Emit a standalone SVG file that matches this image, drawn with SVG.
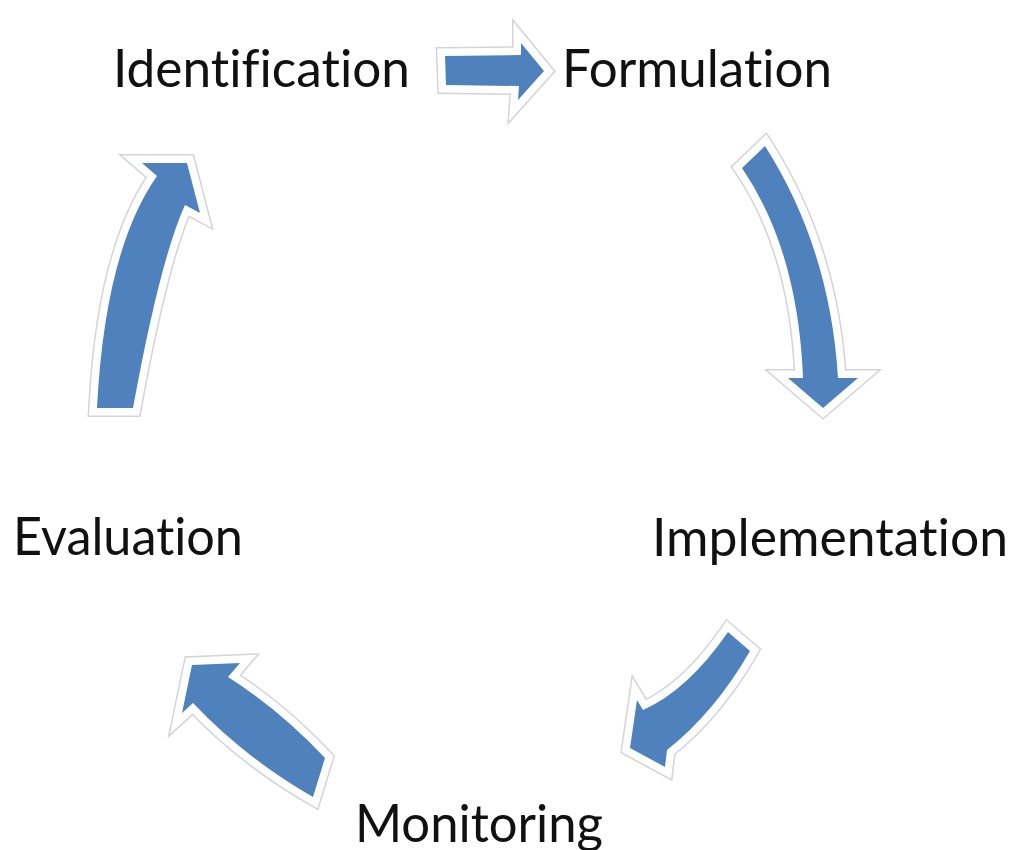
<svg xmlns="http://www.w3.org/2000/svg" xmlns:xlink="http://www.w3.org/1999/xlink" width="1017" height="850" viewBox="0 0 1017 850">
<style>
.lbl{font-family:Lato,"Liberation Sans",sans-serif;font-size:52px;fill:#111;font-variant-ligatures:none;font-feature-settings:"liga" 0,"clig" 0}
.halo1{fill:none;stroke:#d4d4d4;stroke-width:18;stroke-linejoin:miter;stroke-miterlimit:6}
.halo2{fill:none;stroke:#fff;stroke-width:15;stroke-linejoin:miter;stroke-miterlimit:6}
.arr{fill:#4F81BD}
</style>
<defs>
<path id="a1" d="M445,56 L521,55 L521,43 L544,71 L518,100 L519,86 L446,85 Z"/>
<path id="a2" d="M742,168 L765,146 Q830,248 838,378 L858,378 L823,408 L788,378 L803,378 Q798,250 742,168 Z"/>
<path id="a3" d="M97,408 L133,408 Q160,260 185,205 L200,213 L187,163 L142,163 L157,176 Q105,250 97,408 Z"/>
<path id="a4" d="M728,632 L750,651 Q715,712 667,750 L665,767 L630,748 L637,700 L643,710 Q688,690 728,632 Z"/>
<path id="a5" d="M325,758 L313,797 Q245,758 193,703 L182,713 L192,665 L240,663 L228,677 Q280,710 325,758 Z"/>
</defs>
<g id="connectors">
<use xlink:href="#a1" class="halo1"/><use xlink:href="#a1" class="halo2"/><use xlink:href="#a1" class="arr"/>
<use xlink:href="#a2" class="halo1"/><use xlink:href="#a2" class="halo2"/><use xlink:href="#a2" class="arr"/>
<use xlink:href="#a3" class="halo1"/><use xlink:href="#a3" class="halo2"/><use xlink:href="#a3" class="arr"/>
<use xlink:href="#a4" class="halo1"/><use xlink:href="#a4" class="halo2"/><use xlink:href="#a4" class="arr"/>
<use xlink:href="#a5" class="halo1"/><use xlink:href="#a5" class="halo2"/><use xlink:href="#a5" class="arr"/>
</g>
<g id="identification"><text class="lbl" x="113" y="87" textLength="297" lengthAdjust="spacingAndGlyphs">Identification</text></g>
<g id="formulation"><text class="lbl" x="562" y="87" textLength="270" lengthAdjust="spacingAndGlyphs">Formulation</text></g>
<g id="implementation"><text class="lbl" x="652" y="556" textLength="356" lengthAdjust="spacingAndGlyphs">Implementation</text></g>
<g id="monitoring"><text class="lbl" x="355" y="842" textLength="248" lengthAdjust="spacingAndGlyphs">Monitoring</text></g>
<g id="evaluation"><text class="lbl" x="13" y="555" textLength="230" lengthAdjust="spacingAndGlyphs">Evaluation</text></g>
</svg>
